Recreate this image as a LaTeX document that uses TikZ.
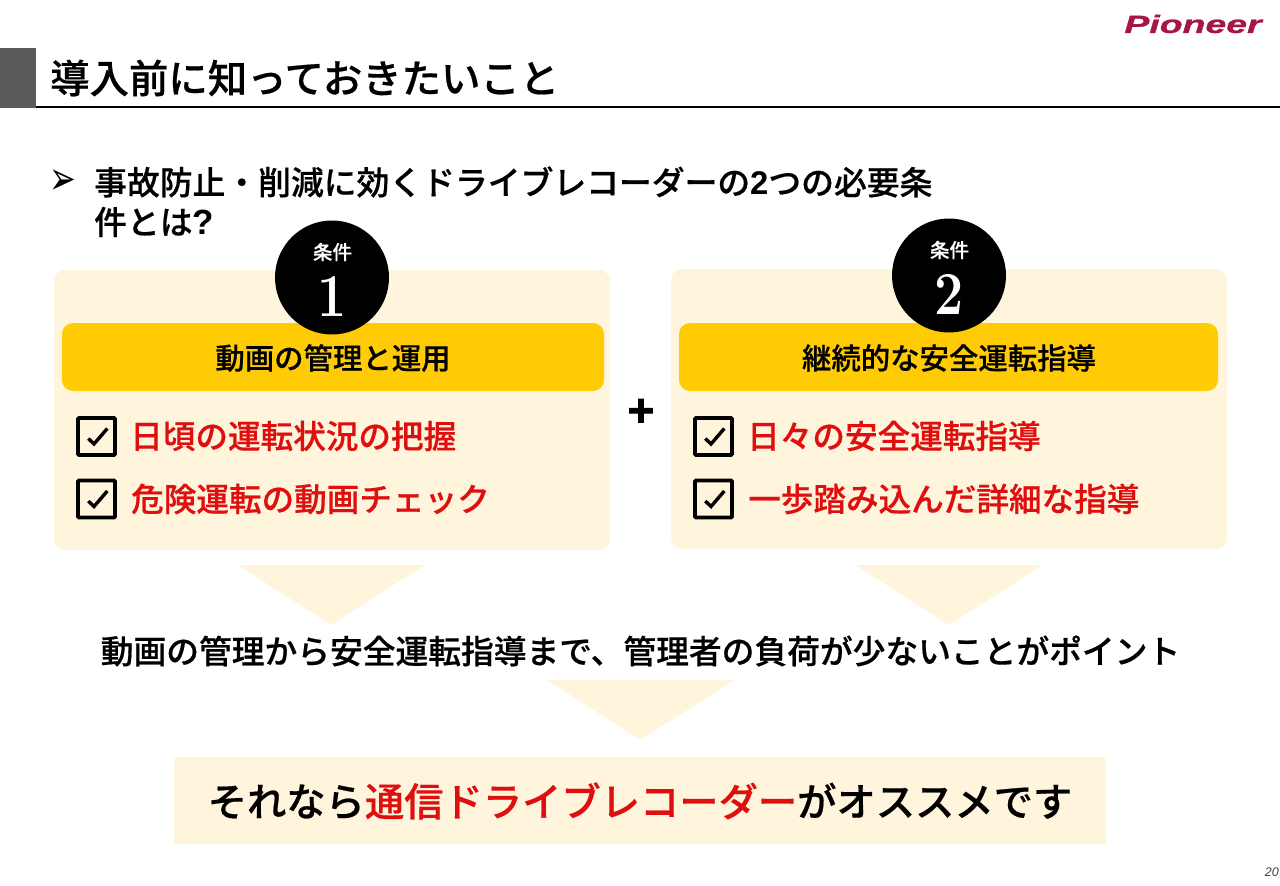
\documentclass[tikz,border=0pt]{standalone}
\usepackage{fontspec}
\setmainfont{Noto Sans CJK JP}[BoldFont={Noto Sans CJK JP Medium},BoldFeatures={FakeBold=0.5}]
\newfontfamily\latinb{Liberation Sans}
\newfontfamily\plusf{Liberation Sans}[BoldFeatures={FakeBold=1.6}]
\newfontfamily\logof{Liberation Sans}[BoldItalicFeatures={FakeBold=0.8}]
\newfontfamily\serifd{Latin Modern Roman}
\newfontfamily\sym{DejaVu Sans}
\definecolor{panelc}{HTML}{FFF5DD}
\definecolor{barc}{HTML}{FFCB05}
\definecolor{redc}{HTML}{DF0F0F}
\definecolor{logoc}{HTML}{A6144A}
\definecolor{headc}{HTML}{5A5A5A}
\newcommand{\fsz}[1]{\fontsize{#1pt}{#1pt}\selectfont}
\tikzset{
  panel/.style={fill=panelc,rounded corners=11pt,inner sep=0pt,minimum width=556pt,minimum height=280pt},
  bar/.style={fill=barc,rounded corners=11pt,inner sep=0pt,minimum height=68pt},
  badge/.style={circle,fill=black,inner sep=0pt,minimum size=114pt},
  chk/.style={draw=black,line width=3.6pt,rounded corners=1pt,inner sep=0pt,minimum width=37pt,minimum height=37pt},
  tick/.style={draw=black,line width=3.4pt,line join=miter},
  digit/.style={inner sep=0pt,text=white,font=\serifd\fsz{61}\bfseries,xscale=0.85},
  redtext/.style={anchor=west,inner sep=0pt,text=redc,font=\fsz{32.6}\bfseries},
  bartext/.style={inner sep=0pt,font=\fsz{29.4}\bfseries},
  tri/.style={fill=panelc},
  lead/.style={anchor=west,inner sep=0pt,font=\fsz{32.8}\bfseries}
}
\begin{document}
\begin{tikzpicture}[x=1pt,y=-1pt]
\useasboundingbox (0,0) rectangle (1280,886);
% header
\fill[headc] (0,48) rectangle (36,108);
\draw[black,line width=2.4pt] (36,107.2) -- (1280,107.2);
\node[anchor=west,inner sep=0pt,font=\fsz{39.4}\bfseries] (title) at (50,78) {導入前に知っておきたいこと};
\node[inner sep=0pt,text=logoc,font=\logof\fsz{29}\bfseries\itshape,xscale=1.29,yscale=0.86] (logo) at (1193,24) {Pioneer};
% lead text
\node[anchor=center,inner sep=0pt,font=\sym\fsz{32},yscale=1.45] (bullet) at (63,182) {➢};
\node[lead] (l1) at (94,182) {事故防止・削減に効くドライブレコーダーの{\latinb\bfseries 2}つの必要条};
\node[lead] (l2) at (94,222) {件とは{\latinb\fsz{35}\bfseries ?}};
% panels
\node[panel] (p1) at (332,410) {};
\node[panel] (p2) at (949,409) {};
\node[bar,minimum width=542pt] (b1) at (333,357) {};
\node[bar,minimum width=539pt] (b2) at (948.5,357) {};
\node[badge] (c1) at (332,277.5) {};
\node[badge] (c2) at (949,275.5) {};
\node[inner sep=0pt,text=white,font=\fsz{19.5}\bfseries] (c1a) at (332.5,252) {条件};
\node[inner sep=0pt,text=white,font=\fsz{19.5}\bfseries] (c2a) at (949.5,250) {条件};
\node[digit] (c1b) at (332,296) {1};
\node[digit] (c2b) at (949,294) {2};
\node[bartext] (b1t) at (333,358) {動画の管理と運用};
\node[bartext] (b2t) at (949,358) {継続的な安全運転指導};
% checklists
\foreach \nm/\cx/\cy in {k1/96.5/436.5,k2/96.5/499,k3/713.5/436.5,k4/713.5/499}{
  \node[chk] (\nm) at (\cx,\cy) {};
  \draw[tick] ([xshift=-8.2pt,yshift=-2pt]\nm.center) -- ([xshift=-2.5pt,yshift=-7.5pt]\nm.center) -- ([xshift=10.8pt,yshift=8pt]\nm.center);
}
\node[redtext] (r1) at (130,436) {日頃の運転状況の把握};
\node[redtext] (r2) at (131,499) {危険運転の動画チェック};
\node[redtext] (r3) at (747,436) {日々の安全運転指導};
\node[redtext] (r4) at (748,499) {一歩踏み込んだ詳細な指導};
\node[inner sep=0pt,font=\plusf\fsz{46}\bfseries] (plus) at (641,412.5) {+};
% triangles
\fill[tri] (238,565) -- (425,565) -- (331,625) -- cycle;
\fill[tri] (855,565) -- (1043,565) -- (949,625) -- cycle;
\fill[tri] (547,680) -- (735,680) -- (640,740) -- cycle;
\node[inner sep=0pt,font=\fsz{32.75}\bfseries] (mid) at (640.5,651) {動画の管理から安全運転指導まで、管理者の負荷が少ないことがポイント};
% conclusion
\node[fill=panelc,rounded corners=3pt,inner sep=0pt,minimum width=932pt,minimum height=87pt] (box) at (640,800.5) {};
\node[inner sep=0pt,font=\fsz{39.3}\bfseries] (boxt) at (640,801) {それなら{\color{redc}通信ドライブレコーダー}がオススメです};
\node[anchor=east,inner sep=0pt,text=black!75,font=\latinb\fsz{12.5}\itshape] (pg) at (1279,872) {20};
\end{tikzpicture}
\end{document}
